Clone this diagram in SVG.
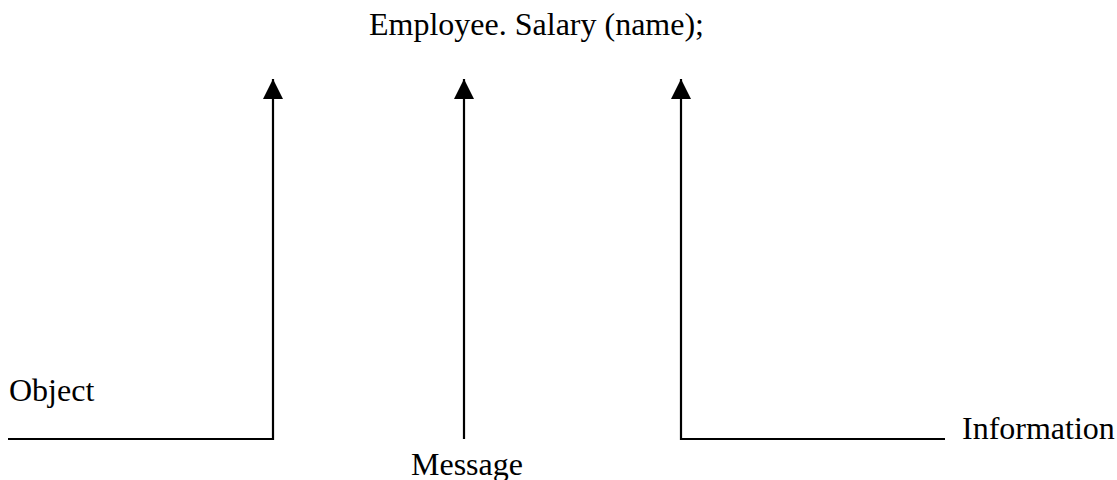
<svg xmlns="http://www.w3.org/2000/svg" width="1117" height="480" viewBox="0 0 1117 480">
<style>
.t{font-family:"Liberation Serif","Times New Roman",serif;font-size:32px;fill:#000}
.c{fill:none;stroke:#000;stroke-width:2.2}
</style>
<defs>
<marker id="ah" markerUnits="userSpaceOnUse" markerWidth="20" markerHeight="21" refX="20" refY="10" orient="auto" viewBox="0 0 20 20">
<path d="M0,0 L20,10 L0,20 Z" fill="#000"/>
</marker>
</defs>
<rect width="1117" height="480" fill="#fff"/>
<g id="title"><text class="t" x="369" y="35">Employee. Salary (name);</text></g>
<g id="object"><text class="t" x="9" y="401">Object</text></g>
<g id="message"><text class="t" x="411" y="475">Message</text></g>
<g id="information"><text class="t" x="962" y="439">Information</text></g>
<g id="connectors">
<path class="c" d="M8,439 H273 V79" marker-end="url(#ah)"/>
<path class="c" d="M464,439 V79" marker-end="url(#ah)"/>
<path class="c" d="M945,439 H681 V79" marker-end="url(#ah)"/>
</g>
</svg>
